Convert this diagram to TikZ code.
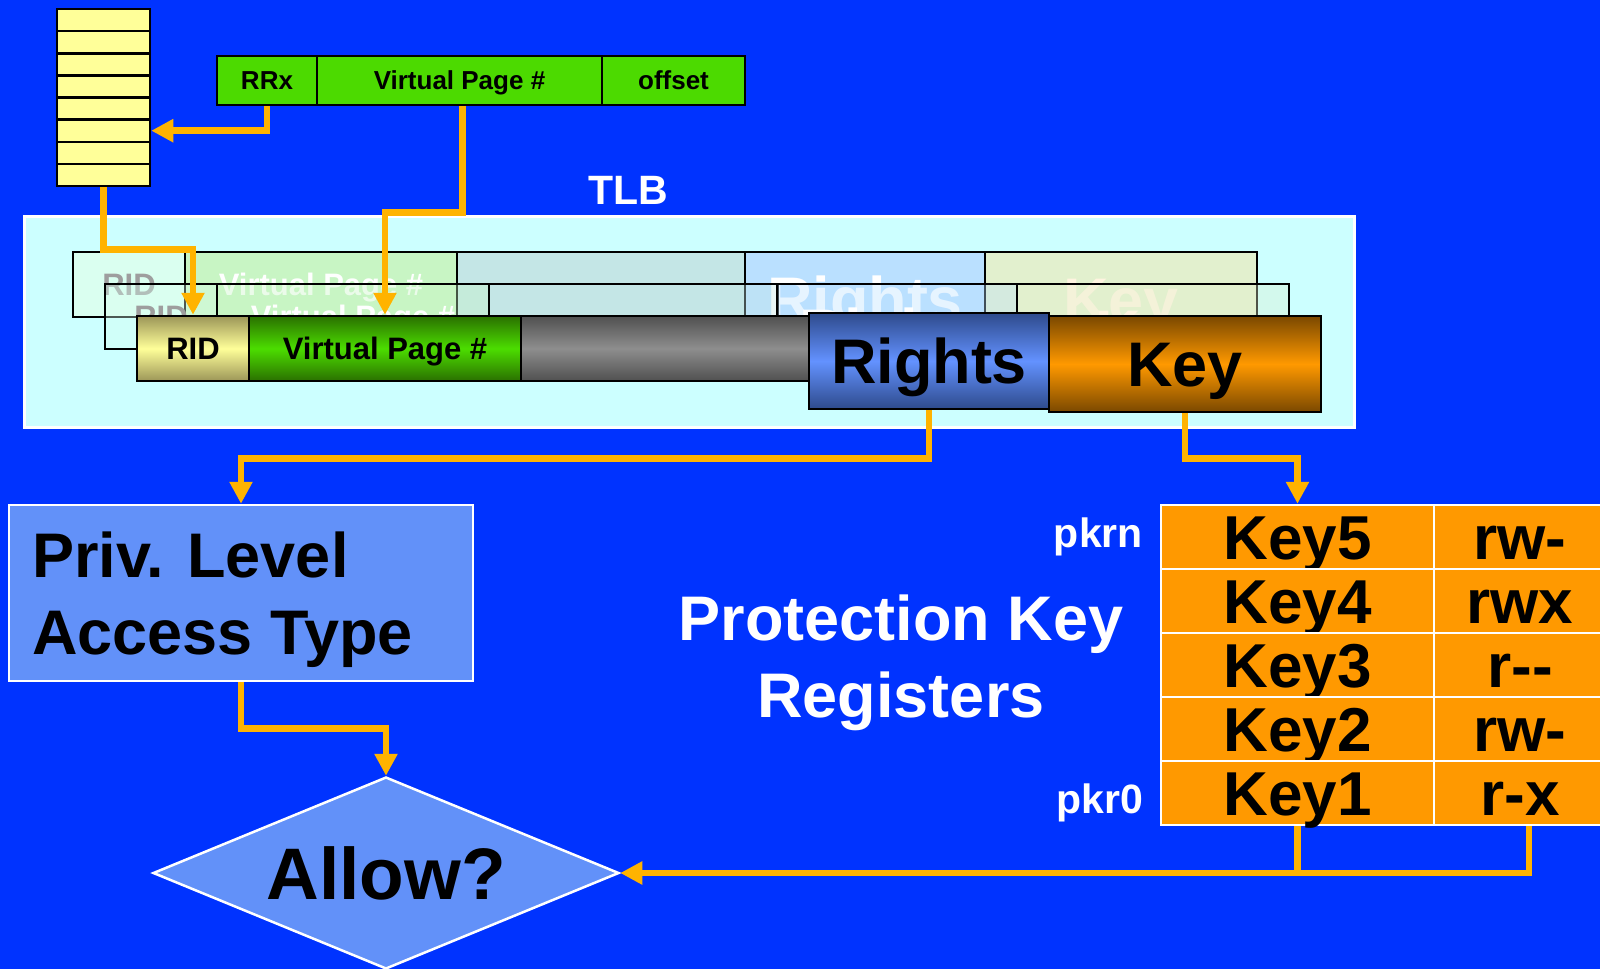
\documentclass[tikz,border=0pt]{standalone}
\usepackage{fontspec}
\setmainfont{Liberation Sans}
\usetikzlibrary{arrows.meta,shapes.geometric}

% palette
\definecolor{slide}{HTML}{0033FF}
\definecolor{wire}{HTML}{FFB300}
\definecolor{regfill}{HTML}{FFFF99}
\definecolor{addrgreen}{HTML}{4CDA00}
\definecolor{tlbfill}{HTML}{CCFFFF}
\definecolor{lightblue}{HTML}{6291F9}
\definecolor{pkrorange}{HTML}{FF9900}
% front TLB entry (shaded cells)
\definecolor{ridEdge}{HTML}{9C9658}
\definecolor{ridMid}{HTML}{FFFF99}
\definecolor{vpnEdge}{HTML}{2A7000}
\definecolor{vpnMid}{HTML}{4CDD00}
\definecolor{grayEdge}{HTML}{505050}
\definecolor{grayMid}{HTML}{8E8E8E}
\definecolor{rightsEdge}{HTML}{2E4A8C}
\definecolor{rightsMid}{HTML}{6392FF}
\definecolor{keyEdge}{HTML}{7A4800}
\definecolor{keyMid}{HTML}{FF9900}
% faded TLB entries behind
\definecolor{fadeRID}{HTML}{DAFFF0}
\definecolor{fadeVPN}{HTML}{C8F5C4}
\definecolor{fadeGray}{HTML}{C4E6E6}
\definecolor{fadeRights}{HTML}{BAE0FF}
\definecolor{fadeKey}{HTML}{E2F0CE}
\definecolor{fadeText}{HTML}{9E9E9E}
\definecolor{fadeKeyText}{HTML}{FFF4E0}

\newcommand\setfs[2]{\fontsize{#1}{#2}\selectfont\bfseries}

\tikzset{
  conn/.style={draw=wire, line width=6.5pt, line join=miter,
               -{Triangle[length=22pt,width=22pt]}},
  wireline/.style={draw=wire, line width=6.5pt},
  regcell/.style={draw=black, line width=2.5pt, fill=regfill,
                  minimum width=93, minimum height=22.125, inner sep=0},
  addrcell/.style={draw=black, line width=2.5pt, fill=addrgreen,
                   minimum height=49, inner sep=0, font=\setfs{26}{31},
                   text height=18.6, text depth=0},
  smalltext/.style={font=\setfs{31}{37}, text height=22.2, text depth=0},
  bigtext/.style={font=\setfs{63}{75}, text height=45.1, text depth=0},
  frontcell/.style={draw=black, line width=2.5pt, inner sep=0, text=black},
  frontrid/.style={smalltext, top color=ridEdge, bottom color=ridEdge, middle color=ridMid},
  frontvpn/.style={smalltext, top color=vpnEdge, bottom color=vpnEdge, middle color=vpnMid},
  frontgray/.style={top color=grayEdge, bottom color=grayEdge, middle color=grayMid},
  frontrights/.style={bigtext, top color=rightsEdge, bottom color=rightsEdge, middle color=rightsMid},
  frontkey/.style={bigtext, top color=keyEdge, bottom color=keyEdge, middle color=keyMid},
  fadecell/.style={draw=black, line width=2pt, inner sep=0, text=white},
  faderid/.style={smalltext, fill=fadeRID, text=fadeText},
  fadevpn/.style={smalltext, fill=fadeVPN},
  fadegray/.style={fill=fadeGray},
  faderights/.style={bigtext, fill=fadeRights, minimum height=93, yshift=-1.5pt},
  fadekey/.style={bigtext, fill=fadeKey, text=fadeKeyText},
  bluebox/.style={draw=white, line width=2.5pt, fill=lightblue, inner sep=0},
  pkrcell/.style={draw=white, line width=2.5pt, fill=pkrorange, inner sep=0,
                  minimum height=64, font=\setfs{62}{74},
                  text height=44.4, text depth=0},
  whitetext/.style={text=white, inner sep=0},
}

% one TLB entry: #1 = name prefix, #2 = look (front / fade)
\newcommand\tlbentry[2]{%
  \node[#2cell, minimum width=112, minimum height=65, #2rid] (#1rid) at (193,348.5) {RID};
  \node[#2cell, minimum width=272, minimum height=65, #2vpn] (#1vpn) at (385,348.5) {Virtual Page \#};
  \node[#2cell, minimum width=289, minimum height=65, #2gray] (#1gray) at (665.5,348.5) {};
  \node[#2cell, minimum width=240, minimum height=96, #2rights] (#1rights) at (929,361) {Rights};
  \node[#2cell, minimum width=272, minimum height=96, #2key] (#1key) at (1185,364) {Key};
}

\begin{document}
\begin{tikzpicture}[x=1pt,y=-1pt]
\useasboundingbox (0,0) rectangle (1600,969);
\fill[slide] (0,0) rectangle (1600,969);

% region register file
\foreach \i in {1,...,8}
  \node[regcell] (reg\i) at (103.5,{9+22.125*(\i-0.5)}) {};

% virtual address
\node[addrcell, minimum width=100] (rrx)  at (267,80.5)   {RRx};
\node[addrcell, minimum width=285] (tvpn) at (459.5,80.5) {Virtual Page \#};
\node[addrcell, minimum width=143] (off)  at (673.5,80.5) {offset};

% TLB
\node[draw=white, line width=3pt, fill=tlbfill, minimum width=1329.5,
      minimum height=211, inner sep=0] (tlb) at (689.25,321.5) {};
\node[whitetext, anchor=base, font=\setfs{41}{49}] (tlblabel) at (628,204) {TLB};

\begin{scope}[shift={(-64,-64)}]
  \tlbentry{b}{fade}
\end{scope}
\begin{scope}[shift={(-32,-32)}, fill opacity=0.35, text opacity=1]
  \tlbentry{m}{fade}
\end{scope}
\tlbentry{f}{front}

% privilege level / access type
\node[bluebox, minimum width=464, minimum height=176] (priv) at (241,593) {};
\node[anchor=north west, align=left, inner sep=0, font=\setfs{63}{77}]
  (privtext) at (32,532) {Priv. Level\\Access Type};

% decision
\node[bluebox, diamond, aspect=2.43, minimum width=466, minimum height=192,
      font=\setfs{73}{88}, text height=52, text depth=0] (allow) at (386,873) {Allow?};

% protection key registers
\node[whitetext, anchor=north, align=center, font=\setfs{63}{77}]
  (pkrtitle) at (901,595) {Protection Key\\Registers};
\node[pkrcell, minimum width=273] (k5) at (1297.5,537) {Key5};
\node[pkrcell, minimum width=172] (r5) at (1520,537)   {rw-};
\node[pkrcell, minimum width=273] (k4) at (1297.5,601) {Key4};
\node[pkrcell, minimum width=172] (r4) at (1520,601)   {rwx};
\node[pkrcell, minimum width=273] (k3) at (1297.5,665) {Key3};
\node[pkrcell, minimum width=172] (r3) at (1520,665)   {r-{}-};
\node[pkrcell, minimum width=273] (k2) at (1297.5,729) {Key2};
\node[pkrcell, minimum width=172] (r2) at (1520,729)   {rw-};
\node[pkrcell, minimum width=273] (k1) at (1297.5,793) {Key1};
\node[pkrcell, minimum width=172] (r1) at (1520,793)   {r-x};
\node[whitetext, anchor=base east, font=\setfs{41}{49}] (pkrn) at (1143,547) {pkrn};
\node[whitetext, anchor=base east, font=\setfs{41}{49}] (pkr0) at (1143,813) {pkr0};

% connectors
\draw[conn] (rrx.south) |- (reg6.east);
\draw[conn] ([xshift=3pt]tvpn.south) -- ++(0,106) -| (fvpn.north);
\draw[conn] (reg8.south) -- ++(0,62) -| (frid.north);
\draw[conn] (frights.south) -- ++(0,48) -| (priv.north);
\draw[conn] (fkey.south) -- ++(0,45) -| (k5.north);
\draw[conn] (priv.south) -- ++(0,46) -| (allow.north);
\draw[wireline] (k1.south) -- (k1.south |- allow.east);
\draw[conn] ([xshift=9pt]r1.south) |- (allow.east);
\end{tikzpicture}
\end{document}
